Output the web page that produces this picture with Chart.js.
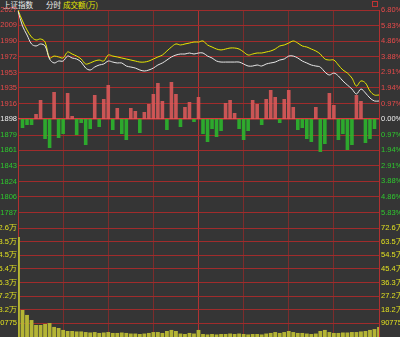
<!DOCTYPE html>
<html>
<head>
<meta charset="utf-8">
<script src="https://cdn.jsdelivr.net/npm/chart.js@4/dist/chart.umd.min.js"></script>
<style>
  html, body { margin: 0; padding: 0; background: #353535; }
  #wrap { position: relative; width: 400px; height: 337px; overflow: hidden; background: #353535; }
  #c { position: absolute; left: 0; top: 0; z-index: 2; }
  #head span { position: absolute; z-index: 1; top: 0; font: 7.5px/9px "Noto Sans CJK SC", sans-serif; white-space: nowrap; }
  .w { color: #f0f0f0; }
  .y { color: #e6e600; }
  #icon { position: absolute; left: 372px; top: 1px; width: 4px; height: 4px; border: 1px solid #c03434; }
</style>
</head>
<body>
<div id="wrap">
  <div id="head">
    <span class="w" style="left:3px">上证指数</span>
    <span class="w" style="left:46px">分时</span>
    <span class="y" style="left:63px">成交额(万)</span>
  </div>
  <div id="icon"></div>
  <canvas id="c" width="400" height="337"></canvas>
</div>
<script>
// 3分钟一个点 (09:30 - 11:30, 13:03 - 15:00)
const times = ['09:30','09:33','09:36','09:39','09:42','09:45','09:48','09:51','09:54','09:57',
  '10:00','10:03','10:06','10:09','10:12','10:15','10:18','10:21','10:24','10:27',
  '10:30','10:33','10:36','10:39','10:42','10:45','10:48','10:51','10:54','10:57',
  '11:00','11:03','11:06','11:09','11:12','11:15','11:18','11:21','11:24','11:27',
  '11:30','13:03','13:06','13:09','13:12','13:15','13:18','13:21','13:24','13:27',
  '13:30','13:33','13:36','13:39','13:42','13:45','13:48','13:51','13:54','13:57',
  '14:00','14:03','14:06','14:09','14:12','14:15','14:18','14:21','14:24','14:27',
  '14:30','14:33','14:36','14:39','14:42','14:45','14:48','14:51','14:54','14:57','15:00'];

// 白线 (加权指数)
const priceWhite = [2025.8,2008.1,1997.4,1986.8,1984.4,1986.8,1984.4,1969.0,1964.3,1966.6,
  1966.6,1972.5,1970.2,1969.0,1965.4,1958.3,1956.0,1959.5,1961.9,1963.1,
  1966.6,1965.4,1964.3,1964.3,1960.7,1959.5,1958.3,1956.0,1954.8,1956.0,
  1958.3,1961.9,1964.3,1967.8,1971.4,1973.7,1974.9,1974.9,1976.1,1974.9,
  1976.1,1976.1,1972.5,1970.2,1966.6,1965.4,1965.4,1965.4,1965.4,1965.4,
  1963.1,1960.7,1960.7,1961.9,1960.7,1963.1,1964.3,1965.4,1967.8,1969.0,
  1972.5,1972.5,1970.2,1966.6,1964.3,1961.9,1960.7,1959.5,1953.6,1950.1,
  1952.4,1948.9,1943.0,1938.2,1933.5,1927.6,1933.5,1928.8,1922.8,1919.3,1919.3];

// 黄线 (不含加权)
const priceYellow = [2027.0,2014.0,2003.3,1995.0,1991.5,1992.7,1989.1,1970.2,1972.5,1971.4,
  1970.2,1977.3,1974.9,1972.5,1969.0,1963.1,1964.3,1966.6,1967.8,1966.6,
  1973.7,1972.5,1971.4,1970.2,1969.0,1967.8,1966.6,1965.4,1965.4,1966.6,
  1969.0,1971.4,1973.7,1978.5,1983.2,1986.8,1985.6,1986.8,1987.9,1989.1,
  1989.1,1990.3,1985.6,1983.2,1980.8,1979.7,1980.8,1982.0,1982.0,1980.8,
  1977.3,1973.7,1974.9,1976.1,1976.1,1977.3,1978.5,1980.8,1984.4,1985.6,
  1987.9,1990.3,1987.9,1984.4,1983.2,1980.8,1978.5,1974.9,1969.0,1967.8,
  1967.8,1961.9,1956.0,1952.4,1946.5,1937.0,1943.0,1940.6,1931.1,1926.4,1926.4];

// 红绿柱
const advDecl = [1,-9,-6,-6,5,19,-20,-29,27,-19,
  -15,26,3,-16,-4,-26,-10,24,-8,20,
  34,-11,11,-15,-21,11,8,-14,7,15,
  25,36,18,-11,37,25,-8,12,17,-3,
  22,-15,-23,-10,-18,-12,16,19,6,-10,
  -21,-12,19,15,-6,20,29,22,-4,20,
  29,12,-11,-9,-20,-23,12,-33,-25,26,
  14,-21,-15,-31,-26,24,18,-24,-20,-10,0];

// 成交额
const volume = [667000,180000,147000,113000,80000,80000,87000,93000,67000,60000,
  47000,40000,40000,37000,37000,33000,30000,33000,27000,30000,
  33000,27000,27000,30000,27000,23000,23000,20000,23000,27000,
  33000,33000,27000,40000,47000,40000,23000,20000,27000,23000,
  47000,20000,17000,20000,17000,20000,20000,23000,20000,23000,
  20000,17000,20000,20000,17000,23000,27000,33000,27000,33000,
  40000,33000,27000,27000,23000,20000,23000,40000,47000,33000,
  27000,27000,30000,30000,33000,33000,37000,40000,47000,53000,67000];

const prevClose = 1898;
const priceTicks = [2027,2009,1990,1972,1953,1935,1916,1898,1879,1861,1843,1824,1806,1787];
const pctTicks = [6.80,5.83,4.86,3.88,2.91,1.94,0.97,0,-0.97,-1.94,-2.91,-3.88,-4.86,-5.83];
const volTicks = [726200,635425,544650,453875,363100,272325,181550,90775];
const volLabels = ['72.6万','63.5万','54.5万','45.4万','36.3万','27.2万','18.2万','90775'];

const RED = '#e84a4a', GREEN = '#2ec82e', WHITE = '#f0f0f0', YEL = '#e0e020';
const GRID = '#a02c2c';
const tickFont = { family: 'Liberation Sans', size: 7.5 };

function sideColor(v, mid) {
  if (v > mid) return RED;
  if (v < mid) return GREEN;
  return WHITE;
}

// 固定坐标轴宽度, 文字超出部分被裁掉 (和原图一样)
function fixWidth(w) {
  return function (scale) {
    scale.width = w;
    scale.paddingTop = 0;
    scale.paddingBottom = 0;
  };
}

new Chart(document.getElementById('c'), {
  type: 'line',
  data: {
    labels: times,
    datasets: [
      { label: '白线', data: priceWhite, yAxisID: 'yPrice', borderColor: '#e8e8e8',
        borderWidth: 1, pointRadius: 0, tension: 0.35, order: 0 },
      { label: '黄线', data: priceYellow, yAxisID: 'yPrice', borderColor: '#e6e600',
        borderWidth: 1, pointRadius: 0, tension: 0.35, order: 0 },
      { type: 'bar', label: '红绿柱', data: advDecl, yAxisID: 'yRG', grouped: false,
        backgroundColor: ctx => ctx.raw >= 0 ? 'rgba(222,90,90,0.88)' : 'rgba(44,186,44,0.88)',
        barPercentage: 0.8, categoryPercentage: 1, order: 1 },
      { type: 'bar', label: '成交额', data: volume, yAxisID: 'yVol', grouped: false,
        backgroundColor: '#b4b434', barPercentage: 0.85, categoryPercentage: 1, order: 1 }
    ]
  },
  options: {
    responsive: false,
    animation: false,
    devicePixelRatio: 1,
    layout: { padding: { top: 10, left: 0, right: 0, bottom: 0 } },
    plugins: { legend: { display: false }, tooltip: { enabled: false } },
    scales: {
      x: {
        offset: false,
        grid: {
          offset: false,
          drawTicks: false,
          color: ctx => {
            const i = ctx.index;
            if (i === 0 || i === 80 || i % 10 !== 0) return 'rgba(0,0,0,0)';
            return i === 40 ? '#b03232' : '#7c2c2c';
          }
        },
        border: { display: false },
        ticks: { display: false, autoSkip: false }
      },
      yPrice: {
        type: 'linear', position: 'left', stack: 'left', stackWeight: 2, weight: 2,
        min: 1769, max: 2027,
        afterBuildTicks: s => { s.ticks = priceTicks.map(v => ({ value: v })); },
        afterFit: fixWidth(18),
        grid: { drawTicks: false, color: c => c.tick.value === prevClose ? '#d83a3a' : GRID,
                lineWidth: c => c.tick.value === prevClose ? 1.5 : 1 },
        border: { color: '#b03030' },
        ticks: { autoSkip: false, padding: 1, font: tickFont,
                 color: c => sideColor(c.tick.value, prevClose),
                 callback: v => String(v) }
      },
      yVol: {
        type: 'linear', position: 'left', stack: 'left', stackWeight: 1, weight: 1,
        min: 0, max: 726200,
        afterBuildTicks: s => { s.ticks = volTicks.map(v => ({ value: v })); },
        afterFit: fixWidth(18),
        grid: { drawTicks: false, color: GRID },
        border: { color: '#b03030' },
        ticks: { autoSkip: false, padding: 1, font: tickFont, color: YEL,
                 callback: v => volLabels[volTicks.indexOf(v)] }
      },
      yRG: {
        type: 'linear', position: 'left', display: false,
        min: -218, max: 109
      },
      yPct: {
        type: 'linear', position: 'right', stack: 'right', stackWeight: 2, weight: 1,
        min: -6.80, max: 6.80,
        afterBuildTicks: s => { s.ticks = pctTicks.map(v => ({ value: v })); },
        afterFit: fixWidth(21),
        grid: { display: false, drawTicks: false },
        border: { color: '#b03030' },
        ticks: { autoSkip: false, padding: 2, font: tickFont,
                 color: c => sideColor(c.tick.value, 0),
                 callback: v => Math.abs(v).toFixed(2) + '%' }
      },
      yVolR: {
        type: 'linear', position: 'right', stack: 'right', stackWeight: 1, weight: 2,
        min: 0, max: 726200,
        afterBuildTicks: s => { s.ticks = volTicks.map(v => ({ value: v })); },
        afterFit: fixWidth(21),
        grid: { display: false, drawTicks: false },
        border: { color: '#b03030' },
        ticks: { autoSkip: false, padding: 2, font: tickFont, color: YEL,
                 callback: v => volLabels[volTicks.indexOf(v)] }
      }
    }
  }
});
</script>
</body>
</html>
